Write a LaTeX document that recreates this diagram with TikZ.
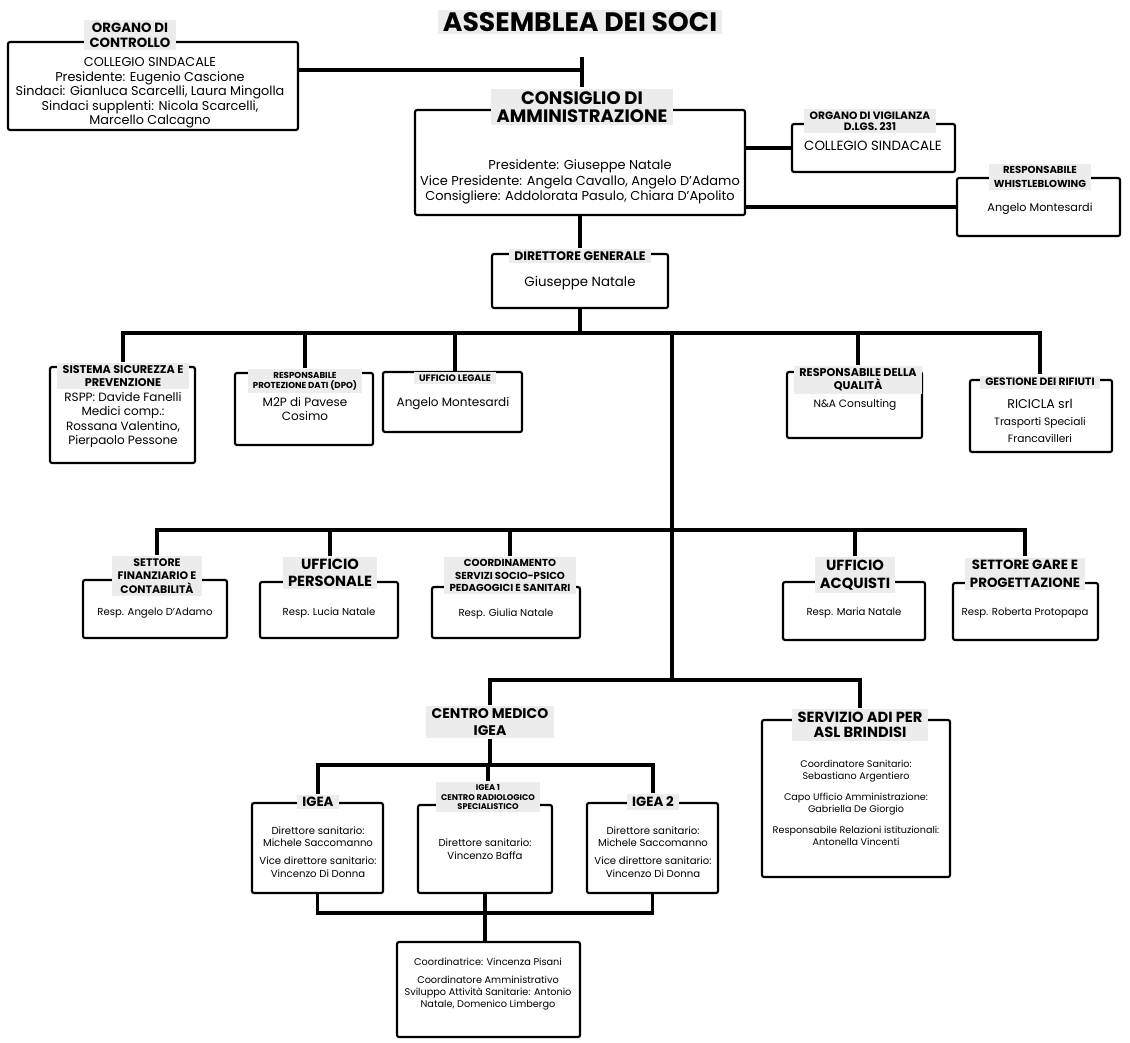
\documentclass[tikz,border=0pt]{standalone}
\usepackage{fontspec}
\setmainfont{Poppins}
\definecolor{dotgray}{HTML}{ECECEC}

\begin{document}
\begin{tikzpicture}[x=0.75pt, y=-0.75pt, line width=1.6pt,
  box/.style 2 args={draw, rounded corners=1.5pt, minimum width=#1*0.75pt, minimum height=#2*0.75pt, inner sep=0pt},
  ttl/.style 2 args={fill=dotgray, inner xsep=4pt, inner ysep=2pt, align=center, font=\fontsize{#1}{#2}\selectfont\bfseries},
  txt/.style 2 args={inner sep=0pt, align=center, font=\fontsize{#1}{#2}\selectfont},
  link/.style={line width=2.4pt}]
\useasboundingbox (0,0) rectangle (1130,1042);

% top
\node[ttl={20}{22}] (asm) at (580,22) {ASSEMBLEA DEI SOCI};

% organo di controllo
\node[box={290}{88}] (ctrl) at (153,86) {};
\node[ttl={10}{11.5}] (ctrl-t) at (130,35) {ORGANO DI\\CONTROLLO};
\node[txt={9.6}{10.9}] (ctrl-c) at (150,93) {COLLEGIO SINDACALE\\Presidente: Eugenio Cascione\\Sindaci: Gianluca Scarcelli, Laura Mingolla\\Sindaci supplenti: Nicola Scarcelli,\\Marcello Calcagno};

% consiglio
\node[box={330}{105}] (cda) at (580,162.5) {};
\node[ttl={13.5}{14}] (cda-t) at (582,107) {CONSIGLIO DI\\AMMINISTRAZIONE};
\node[txt={9.7}{11.4}] (cda-c) at (580,182) {Presidente: Giuseppe Natale\\Vice Presidente: Angela Cavallo, Angelo D'Adamo\\Consigliere: Addolorata Pasulo, Chiara D'Apolito};

% vigilanza
\node[box={163}{48}] (vig) at (873.5,148) {};
\node[ttl={8}{8.5}] (vig-t) at (870,121) {ORGANO DI VIGILANZA\\D.LGS. 231};
\node[txt={10}{11}] (vig-c) at (873,146) {COLLEGIO SINDACALE};

% whistleblowing
\node[box={163}{58}] (wb) at (1038.5,207) {};
\node[ttl={7.6}{10}] (wb-t) at (1040,177) {RESPONSABILE\\WHISTLEBLOWING};
\node[txt={8.4}{10}] (wb-c) at (1040,209) {Angelo Montesardi};

% direttore
\node[box={176}{54}] (dg) at (580,281) {};
\node[ttl={9.3}{10}] (dg-t) at (580,256) {DIRETTORE GENERALE};
\node[txt={10}{11}] (dg-c) at (580,283) {Giuseppe Natale};

% staff
\node[box={145}{96}] (sic) at (122.5,415) {};
\node[ttl={8.4}{9.8}] (sic-t) at (123,376) {SISTEMA SICUREZZA E\\PREVENZIONE};
\node[txt={9}{10.8}] (sic-c) at (123,420) {RSPP: Davide Fanelli\\Medici comp.:\\Rossana Valentino,\\Pierpaolo Pessone};

\node[box={138}{72}] (dpo) at (304,409) {};
\node[ttl={6.5}{7.5}] (dpo-t) at (305,381) {RESPONSABILE\\PROTEZIONE DATI (DPO)};
\node[txt={9}{11}] (dpo-c) at (305,409) {M2P di Pavese\\Cosimo};

\node[box={139}{60}] (leg) at (452.5,402) {};
\node[ttl={7}{8}] (leg-t) at (455,378) {UFFICIO LEGALE};
\node[txt={9}{10}] (leg-c) at (453,404) {Angelo Montesardi};

\node[box={135}{66}] (qual) at (854.5,405) {};
\node[ttl={8.4}{10}] (qual-t) at (858,380) {RESPONSABILE DELLA\\QUALITÀ};
\node[txt={8}{10}] (qual-c) at (855,405) {N\&A Consulting};

\node[box={142}{72}] (rif) at (1041,416) {};
\node[ttl={8}{9}] (rif-t) at (1040,382) {GESTIONE DEI RIFIUTI};
\node[txt={8}{13}] (rif-c) at (1040,421) {{\fontsize{9.5}{10}\selectfont RICICLA srl}\\Trasporti Speciali\\Francavilleri};

% uffici
\node[box={144}{58}] (fin) at (155,609) {};
\node[ttl={8.2}{10}] (fin-t) at (157,576) {SETTORE\\FINANZIARIO E\\CONTABILITÀ};
\node[txt={7.6}{9}] (fin-c) at (155,613) {Resp. Angelo D'Adamo};

\node[box={138}{56}] (per) at (329,610) {};
\node[ttl={11}{12.5}] (per-t) at (330,573) {UFFICIO\\PERSONALE};
\node[txt={7.6}{9}] (per-c) at (329,613) {Resp. Lucia Natale};

\node[box={148}{51}] (coo) at (506,612.5) {};
\node[ttl={7.6}{9.3}] (coo-t) at (510,575.5) {COORDINAMENTO\\SERVIZI SOCIO-PSICO\\PEDAGOGICI E SANITARI};
\node[txt={7.6}{9}] (coo-c) at (506,614) {Resp. Giulia Natale};

\node[box={142}{58}] (acq) at (854,611) {};
\node[ttl={11}{14}] (acq-t) at (855,575) {UFFICIO\\ACQUISTI};
\node[txt={7.6}{9}] (acq-c) at (854,613) {Resp. Maria Natale};

\node[box={145}{57}] (gare) at (1025.5,611.5) {};
\node[ttl={10}{13.5}] (gare-t) at (1025,574) {SETTORE GARE E\\PROGETTAZIONE};
\node[txt={7.6}{9}] (gare-c) at (1025,613) {Resp. Roberta Protopapa};

% centro medico
\node[ttl={10.5}{12.5}] (cmi) at (490,722) {CENTRO MEDICO\\IGEA};

\node[box={188}{157}] (adi) at (856,798.5) {};
\node[ttl={11}{11.5}] (adi-t) at (860,725) {SERVIZIO ADI PER\\ASL BRINDISI};
\node[txt={7.2}{9}] (adi-c) at (856,803) {Coordinatore Sanitario:\\Sebastiano Argentiero\\[7pt]Capo Ufficio Amministrazione:\\Gabriella De Giorgio\\[7pt]Responsabile Relazioni istituzionali:\\Antonella Vincenti};

\node[box={131}{90}] (igea) at (317.5,848) {};
\node[ttl={10}{10}] (igea-t) at (318,802) {IGEA};
\node[txt={7.6}{9.5}] (igea-c) at (318,852) {Direttore sanitario:\\Michele Saccomanno\\[4pt]Vice direttore sanitario:\\Vincenzo Di Donna};

\node[box={134}{88}] (rad) at (485,849) {};
\node[ttl={6.2}{7}] (rad-t) at (488,797) {IGEA 1\\CENTRO RADIOLOGICO\\SPECIALISTICO};
\node[txt={7.6}{9.5}] (rad-c) at (485,849) {Direttore sanitario:\\Vincenzo Baffa};

\node[box={131}{90}] (ig2) at (652.5,848) {};
\node[ttl={10}{10}] (ig2-t) at (653,802) {IGEA 2};
\node[txt={7.6}{9.5}] (ig2-c) at (653,852) {Direttore sanitario:\\Michele Saccomanno\\[4pt]Vice direttore sanitario:\\Vincenzo Di Donna};

\node[box={183}{95}] (bot) at (488.5,989.5) {};
\node[txt={7.3}{9}] (bot-c) at (488,984) {Coordinatrice: Vincenza Pisani\\[5pt]Coordinatore Amministrativo\\Sviluppo Attività Sanitarie: Antonio\\Natale, Domenico Limbergo};

% connectors
\coordinate (tee) at (582,70);
\coordinate (teetop) at (582,57);
\draw[link] (ctrl.east |- tee) -- (tee);
\draw[link] (teetop) -- (cda-t.north);
\draw[link] (cda.east |- vig.west) -- (vig.west);
\draw[link] (cda.east |- wb.west) -- (wb.west);
\draw[link] (cda.south) -- (cda.south |- dg-t.north);

\coordinate (bus1) at (672,333);
\coordinate (bus2) at (672,530);
\coordinate (bus3) at (672,680);
\draw[link] (dg.south) -- (dg.south |- bus1);
\draw[link] (sic-t.north) |- (rif-t.north |- bus1) -- (rif-t.north);
\draw[link] (dpo-t.north) -- (dpo-t.north |- bus1);
\draw[link] (leg-t.north) -- (leg-t.north |- bus1);
\draw[link] (qual-t.north) -- (qual-t.north |- bus1);
\draw[link] (bus1) -- (bus3);

\draw[link] (fin-t.north) |- (gare-t.north |- bus2) -- (gare-t.north);
\draw[link] (per-t.north) -- (per-t.north |- bus2);
\draw[link] (coo-t.north) -- (coo-t.north |- bus2);
\draw[link] (acq-t.north) -- (acq-t.north |- bus2);

\draw[link] (cmi.north) |- (adi-t.north |- bus3) -- (adi-t.north);

\coordinate (bus4) at (490,765);
\coordinate (bus5) at (488,913);
\draw[link] (cmi.south) -- (bus4);
\draw[link] (igea-t.north) |- (ig2-t.north |- bus4) -- (ig2-t.north);
\draw[link] (rad-t.north) -- (rad-t.north |- bus4);
\draw[link] (igea.south) |- (ig2.south |- bus5) -- (ig2.south);
\draw[link] (rad.south) -- (rad.south |- bot.north);
\end{tikzpicture}
\end{document}
